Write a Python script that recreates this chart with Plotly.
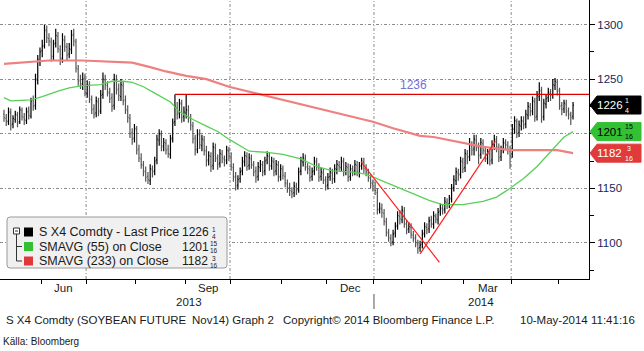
import plotly.graph_objects as go
import pandas as pd

# ---------------- data ----------------
holidays = ["2013-05-27", "2013-07-04", "2013-09-02", "2013-11-28", "2013-12-25",
            "2014-01-01", "2014-01-20", "2014-02-17", "2014-04-18"]
dates = [d for d in pd.bdate_range("2013-05-08", "2014-05-09")
         if d.strftime("%Y-%m-%d") not in holidays]

opens = [
    1218, 1214, 1211, 1219, 1209, 1213, 1217, 1211, 1221, 1215,
    1212, 1221, 1216, 1231, 1226, 1249, 1266, 1276, 1281, 1294,
    1287, 1284, 1271, 1283, 1289, 1277, 1269, 1285, 1279, 1273,
    1277, 1291, 1284, 1259, 1249, 1245, 1251, 1237, 1244, 1231,
    1223, 1219, 1229, 1221, 1236, 1249, 1244, 1237, 1233, 1226,
    1249, 1241, 1234, 1244, 1231, 1221, 1214, 1201, 1196, 1204,
    1186, 1177, 1171, 1166, 1161, 1157, 1167, 1166, 1176, 1194,
    1199, 1189, 1191, 1186, 1181, 1196, 1211, 1224, 1219, 1227,
    1216, 1219, 1221, 1214, 1207, 1196, 1186, 1199, 1189, 1194,
    1184, 1176, 1179, 1171, 1187, 1177, 1173, 1181, 1177, 1176,
    1184, 1179, 1169, 1161, 1153, 1159, 1166, 1174, 1179, 1171,
    1177, 1171, 1166, 1161, 1169, 1171, 1166, 1176, 1179, 1171,
    1174, 1166, 1171, 1161, 1167, 1161, 1154, 1151, 1147, 1146,
    1151, 1149, 1166, 1174, 1177, 1169, 1167, 1161, 1166, 1174,
    1169, 1161, 1164, 1157, 1153, 1161, 1164, 1159, 1167, 1171,
    1169, 1174, 1166, 1169, 1161, 1167, 1166, 1171, 1164, 1171,
    1174, 1167, 1164, 1159, 1154, 1151, 1146, 1131, 1131, 1127,
    1119, 1109, 1104, 1101, 1109, 1116, 1124, 1121, 1129, 1117,
    1113, 1114, 1107, 1104, 1099, 1096, 1099, 1109, 1114, 1113,
    1121, 1117, 1124, 1121, 1129, 1131, 1131, 1137, 1136, 1141,
    1151, 1157, 1164, 1163, 1174, 1169, 1181, 1179, 1189, 1186,
    1194, 1187, 1181, 1191, 1184, 1177, 1181, 1176, 1189, 1194,
    1187, 1179, 1186, 1191, 1189, 1184, 1181, 1204, 1211, 1201,
    1207, 1211, 1209, 1217, 1224, 1221, 1229, 1216, 1234, 1239,
    1216, 1227, 1233, 1237, 1236, 1244, 1247, 1239, 1226, 1223,
    1227, 1221, 1217, 1216,
]
highs = [
    1222, 1218, 1224, 1223, 1217, 1221, 1220, 1225, 1224, 1219,
    1224, 1225, 1233, 1235, 1255, 1272, 1279, 1286, 1300, 1299,
    1292, 1288, 1286, 1296, 1293, 1281, 1292, 1290, 1283, 1283,
    1295, 1296, 1287, 1263, 1254, 1256, 1255, 1249, 1248, 1235,
    1227, 1234, 1233, 1240, 1256, 1254, 1248, 1242, 1237, 1255,
    1254, 1246, 1250, 1248, 1235, 1226, 1218, 1205, 1209, 1207,
    1190, 1182, 1175, 1170, 1165, 1172, 1171, 1179, 1199, 1204,
    1203, 1196, 1195, 1190, 1199, 1214, 1236, 1229, 1232, 1231,
    1225, 1236, 1226, 1218, 1211, 1199, 1204, 1204, 1199, 1198,
    1189, 1184, 1183, 1192, 1191, 1181, 1186, 1185, 1180, 1189,
    1188, 1183, 1173, 1165, 1162, 1169, 1179, 1184, 1183, 1182,
    1181, 1175, 1170, 1174, 1176, 1175, 1179, 1184, 1183, 1179,
    1178, 1176, 1175, 1172, 1171, 1165, 1158, 1155, 1151, 1156,
    1155, 1169, 1179, 1182, 1181, 1173, 1171, 1169, 1179, 1178,
    1173, 1169, 1168, 1161, 1164, 1169, 1168, 1172, 1176, 1175,
    1179, 1178, 1174, 1173, 1172, 1171, 1176, 1175, 1174, 1178,
    1178, 1172, 1168, 1163, 1158, 1156, 1150, 1137, 1136, 1131,
    1123, 1113, 1108, 1112, 1119, 1129, 1130, 1134, 1133, 1121,
    1119, 1118, 1111, 1108, 1103, 1102, 1112, 1119, 1118, 1124,
    1125, 1129, 1127, 1132, 1136, 1135, 1142, 1141, 1144, 1154,
    1162, 1169, 1168, 1179, 1178, 1186, 1185, 1196, 1193, 1199,
    1199, 1192, 1196, 1195, 1188, 1186, 1186, 1194, 1199, 1198,
    1191, 1189, 1196, 1195, 1193, 1189, 1209, 1216, 1214, 1212,
    1216, 1216, 1222, 1229, 1228, 1234, 1233, 1239, 1247, 1243,
    1232, 1236, 1242, 1241, 1250, 1251, 1250, 1242, 1229, 1231,
    1231, 1224, 1220, 1229,
]
lows = [
    1211, 1207, 1208, 1203, 1205, 1210, 1206, 1209, 1212, 1208,
    1209, 1213, 1214, 1221, 1222, 1245, 1262, 1270, 1278, 1283,
    1280, 1266, 1267, 1279, 1274, 1263, 1265, 1275, 1267, 1269,
    1273, 1280, 1256, 1244, 1241, 1240, 1234, 1233, 1228, 1218,
    1214, 1215, 1216, 1218, 1232, 1240, 1234, 1228, 1220, 1222,
    1236, 1230, 1230, 1226, 1218, 1210, 1196, 1190, 1192, 1181,
    1174, 1168, 1161, 1156, 1154, 1153, 1160, 1162, 1172, 1189,
    1184, 1184, 1181, 1178, 1177, 1192, 1207, 1213, 1214, 1210,
    1211, 1214, 1210, 1203, 1191, 1180, 1182, 1186, 1184, 1180,
    1170, 1171, 1165, 1167, 1174, 1167, 1169, 1173, 1170, 1172,
    1175, 1166, 1156, 1148, 1149, 1155, 1162, 1170, 1166, 1167,
    1168, 1161, 1155, 1157, 1165, 1161, 1162, 1172, 1166, 1167,
    1161, 1162, 1156, 1157, 1158, 1151, 1146, 1143, 1141, 1142,
    1144, 1146, 1162, 1170, 1166, 1163, 1156, 1157, 1162, 1166,
    1156, 1157, 1154, 1148, 1149, 1157, 1154, 1155, 1163, 1166,
    1165, 1161, 1162, 1156, 1157, 1161, 1162, 1161, 1160, 1167,
    1164, 1161, 1156, 1150, 1147, 1144, 1126, 1127, 1123, 1116,
    1106, 1101, 1097, 1098, 1105, 1112, 1117, 1118, 1114, 1108,
    1109, 1104, 1101, 1096, 1090, 1092, 1095, 1105, 1108, 1109,
    1114, 1113, 1118, 1117, 1125, 1126, 1127, 1131, 1132, 1137,
    1147, 1153, 1157, 1159, 1164, 1165, 1172, 1175, 1180, 1180,
    1184, 1172, 1177, 1181, 1174, 1172, 1171, 1172, 1185, 1183,
    1174, 1175, 1182, 1186, 1181, 1168, 1178, 1200, 1196, 1197,
    1203, 1204, 1205, 1213, 1216, 1217, 1211, 1212, 1230, 1210,
    1212, 1223, 1229, 1230, 1232, 1240, 1235, 1222, 1217, 1219,
    1216, 1213, 1208, 1213,
]
closes = [
    1215, 1212, 1220, 1208, 1214, 1218, 1210, 1222, 1216, 1213,
    1220, 1217, 1230, 1225, 1250, 1268, 1275, 1280, 1295, 1288,
    1285, 1270, 1282, 1290, 1278, 1268, 1286, 1280, 1272, 1278,
    1290, 1285, 1260, 1248, 1246, 1250, 1238, 1245, 1232, 1222,
    1218, 1230, 1220, 1235, 1250, 1245, 1238, 1232, 1225, 1250,
    1240, 1235, 1245, 1230, 1222, 1215, 1200, 1195, 1205, 1185,
    1178, 1172, 1165, 1160, 1158, 1168, 1165, 1175, 1195, 1200,
    1188, 1192, 1185, 1182, 1195, 1210, 1225, 1218, 1228, 1215,
    1220, 1222, 1215, 1208, 1195, 1185, 1200, 1190, 1195, 1185,
    1175, 1180, 1170, 1188, 1178, 1172, 1182, 1178, 1175, 1185,
    1180, 1170, 1160, 1152, 1158, 1165, 1175, 1180, 1170, 1178,
    1172, 1165, 1160, 1170, 1172, 1165, 1175, 1180, 1170, 1175,
    1165, 1172, 1160, 1168, 1162, 1155, 1150, 1148, 1145, 1152,
    1148, 1165, 1175, 1178, 1170, 1168, 1160, 1165, 1175, 1170,
    1160, 1165, 1158, 1152, 1160, 1165, 1158, 1168, 1172, 1170,
    1175, 1165, 1170, 1160, 1168, 1165, 1172, 1165, 1170, 1175,
    1168, 1165, 1160, 1155, 1152, 1148, 1130, 1132, 1128, 1120,
    1110, 1105, 1100, 1108, 1115, 1125, 1122, 1130, 1118, 1112,
    1115, 1108, 1105, 1100, 1095, 1098, 1108, 1115, 1112, 1120,
    1118, 1125, 1122, 1128, 1132, 1130, 1138, 1135, 1140, 1150,
    1158, 1165, 1162, 1175, 1168, 1182, 1178, 1190, 1185, 1195,
    1188, 1180, 1192, 1185, 1178, 1182, 1175, 1190, 1195, 1188,
    1178, 1185, 1192, 1190, 1185, 1180, 1205, 1212, 1200, 1208,
    1212, 1208, 1218, 1225, 1220, 1230, 1215, 1235, 1240, 1215,
    1228, 1232, 1238, 1235, 1245, 1248, 1240, 1225, 1222, 1228,
    1220, 1218, 1215, 1226.25,
]

# moving averages (trading-day index, value)
sma55_day = [0, 3, 12, 17, 24, 29, 35, 43, 48, 53, 57, 62, 68, 74, 78, 84, 90, 95, 100,
             109, 117, 124, 132, 139, 146, 154, 161, 168, 176, 185, 189, 195, 204, 213,
             219, 225, 231, 237, 243, 249, 253]
sma55_val = [1233, 1230, 1231, 1234, 1239, 1242, 1244, 1245, 1248, 1248, 1247, 1243, 1236,
             1229, 1220, 1213, 1207, 1202, 1195, 1184, 1183, 1181, 1177, 1170, 1166, 1165,
             1163, 1157, 1150, 1143, 1139, 1135, 1135, 1138, 1142, 1150, 1159, 1170, 1184,
             1197, 1201.94]
sma233_day = [0, 13, 20, 35, 50, 57, 65, 72, 81, 90, 100, 114, 127, 139, 151, 164, 173, 185,
              191, 206, 213, 225, 235, 246, 253]
sma233_val = [1264, 1266, 1267, 1267, 1266, 1265, 1261, 1257, 1253, 1250, 1243, 1236, 1230,
              1224, 1218, 1211, 1205, 1198, 1197, 1191, 1188, 1185, 1185, 1185, 1182.19]

# drawn trend lines
level_value = 1236
level_start_day = 76
down_day = [158.7, 193.6]
down_val = [1174.4, 1082.3]
up_day = [185, 218.5]
up_val = [1090, 1193]

y_major = [1100, 1150, 1200, 1250, 1300]
y_major_text = ["1100", "1150", "", "1250", "1300"]
month_labels_shown = {6: "Jun", 9: "Sep", 12: "Dec", 3: "Mar"}

# last values: (whole, numerator, denominator, value)
last_price = ("1226", "1", "4", 1226.25)
sma55_last = ("1201", "15", "16", 1201 + 15 / 16)
sma233_last = ("1182", "3", "16", 1182 + 3 / 16)

# ---------------- layout geometry ----------------
W, H = 644, 351
PW, PH = 589, 279          # plot area (px)
X_MIN, X_MAX = -1.78, 260.1
Y_MIN, Y_MAX = 1067.0, 1322.4
FONT = "Liberation Sans, Arial, sans-serif"


def px(x):
    return x / PW


def py(y):
    return 1 - y / PH


idx = list(range(len(dates)))

# month / quarter boundaries from dates
month_bounds = []
quarter_bounds = []
for k in range(1, len(dates)):
    if dates[k].month != dates[k - 1].month:
        month_bounds.append(k - 0.5)
        if dates[k].month in (1, 4, 7, 10):
            quarter_bounds.append(k - 0.5)
year_bound = [k - 0.5 for k in range(1, len(dates)) if dates[k].year != dates[k - 1].year][0]

fig = go.Figure()

fig.add_trace(go.Scatter(x=sma233_day, y=sma233_val, mode="lines",
                         line=dict(color="#ee8080", width=2.2), hoverinfo="skip"))
fig.add_trace(go.Scatter(x=sma55_day, y=sma55_val, mode="lines",
                         line=dict(color="#58cf58", width=1.3), hoverinfo="skip"))

fig.add_trace(go.Ohlc(x=idx, open=opens, high=highs, low=lows, close=closes,
                      increasing=dict(line=dict(color="#000000", width=1.2)),
                      decreasing=dict(line=dict(color="#555555", width=1.2)),
                      tickwidth=0.4))

fig.add_trace(go.Scatter(x=[level_start_day, X_MAX], y=[level_value, level_value], mode="lines",
                         line=dict(color="#e00000", width=1.4), hoverinfo="skip"))
fig.add_trace(go.Scatter(x=down_day, y=down_val, mode="lines",
                         line=dict(color="#ff2020", width=1.2), hoverinfo="skip"))
fig.add_trace(go.Scatter(x=up_day, y=up_val, mode="lines",
                         line=dict(color="#ff2020", width=1.2), hoverinfo="skip"))

# triangles at the major y ticks
fig.add_trace(go.Scatter(x=[262.0] * 4, y=[v for v in y_major if v != 1200], mode="markers",
                         marker=dict(symbol="triangle-right", size=6, color="black"),
                         cliponaxis=False, hoverinfo="skip"))

shapes = []
annots = []

# vertical quarter gridlines
for qb in quarter_bounds:
    shapes.append(dict(type="line", xref="x", yref="paper", x0=qb, x1=qb, y0=0, y1=1,
                       line=dict(color="#8a8a8a", width=1, dash="3px,2px,1px,2px"), layer="below"))

# year divider under the axis
shapes.append(dict(type="line", xref="x", yref="paper", x0=year_bound, x1=year_bound,
                   y0=py(294), y1=py(309), line=dict(color="#555555", width=1)))

# month labels
for k in range(len(month_bounds) - 1):
    a, b = month_bounds[k], month_bounds[k + 1]
    m = dates[int(a + 0.5)].month
    if m in month_labels_shown:
        annots.append(dict(x=(a + b) / 2, y=py(288), xref="x", yref="paper",
                           text=month_labels_shown[m], showarrow=False,
                           font=dict(family=FONT, size=11.5, color="#1a1a1a"),
                           xanchor="center", yanchor="middle"))
annots.append(dict(x=(0 + year_bound) / 2, y=py(302), xref="x", yref="paper", text="2013",
                   showarrow=False, font=dict(family=FONT, size=11.5, color="#1a1a1a"),
                   xanchor="center", yanchor="middle"))
annots.append(dict(x=(year_bound + X_MAX) / 2, y=py(302), xref="x", yref="paper", text="2014",
                   showarrow=False, font=dict(family=FONT, size=11.5, color="#1a1a1a"),
                   xanchor="center", yanchor="middle"))

# 1236 label
annots.append(dict(x=175.0, y=level_value + 0.8, xref="x", yref="y", text="1236",
                   showarrow=False, font=dict(family=FONT, size=12, color="#7070d8"),
                   xanchor="left", yanchor="bottom"))

# footer
foot_font = dict(family=FONT, size=11.5, color="#1a1a1a")
annots += [
    dict(x=px(4), y=py(320), xref="paper", yref="paper", text="S X4 Comdty (SOYBEAN FUTURE",
         showarrow=False, font=foot_font, xanchor="left", yanchor="middle"),
    dict(x=px(190), y=py(320), xref="paper", yref="paper", text="Nov14) Graph 2",
         showarrow=False, font=foot_font, xanchor="left", yanchor="middle"),
    dict(x=px(281), y=py(320), xref="paper", yref="paper",
         text="Copyright\u00a9 2014 Bloomberg Finance L.P.",
         showarrow=False, font=foot_font, xanchor="left", yanchor="middle"),
    dict(x=px(637), y=py(320), xref="paper", yref="paper", text="10-May-2014 11:41:16",
         showarrow=False, font=foot_font, xanchor="right", yanchor="middle"),
    dict(x=px(1), y=py(341), xref="paper", yref="paper", text="K\u00e4lla: Bloomberg",
         showarrow=False, font=dict(family=FONT, size=10, color="#1a1a1a"),
         xanchor="left", yanchor="middle"),
]

# value tags on the right axis
HH = 9 / (PH / (Y_MAX - Y_MIN))   # half tag height in price units
for (whole, num, den, val), fill, tcol in [
        (last_price, "#000000", "#ffffff"),
        (sma55_last, "#33c033", "#000000"),
        (sma233_last, "#e03a3a", "#ffffff")]:
    path = (f"M {px(590)},{val} L {px(597)},{val + HH} L {px(641)},{val + HH} "
            f"L {px(641)},{val - HH} L {px(597)},{val - HH} Z")
    shapes.append(dict(type="path", xref="paper", yref="y", path=path,
                       fillcolor=fill, line=dict(color=fill, width=1), layer="above"))
    annots.append(dict(x=px(596), y=val, xref="paper", yref="y", text=whole, showarrow=False,
                       font=dict(family=FONT, size=11.5, color=tcol), borderpad=0,
                       xanchor="left", yanchor="middle"))
    annots.append(dict(x=px(624), y=val - 0.3, xref="paper", yref="y",
                       text=f"{num}<br>{den}", showarrow=False, align="center", borderpad=0,
                       height=15, valign="middle",
                       font=dict(family=FONT, size=7, color=tcol),
                       xanchor="left", yanchor="middle"))

# legend box (drawn)
bx0, bx1, by0, by1, r = 7, 227, 217, 268, 3
legend_path = (f"M {px(bx0 + r)},{py(by0)} L {px(bx1 - r)},{py(by0)} "
               f"Q {px(bx1)},{py(by0)} {px(bx1)},{py(by0 + r)} "
               f"L {px(bx1)},{py(by1 - r)} Q {px(bx1)},{py(by1)} {px(bx1 - r)},{py(by1)} "
               f"L {px(bx0 + r)},{py(by1)} Q {px(bx0)},{py(by1)} {px(bx0)},{py(by1 - r)} "
               f"L {px(bx0)},{py(by0 + r)} Q {px(bx0)},{py(by0)} {px(bx0 + r)},{py(by0)} Z")
shapes.append(dict(type="path", xref="paper", yref="paper", path=legend_path,
                   fillcolor="#f0f0f0", line=dict(color="#9a9a9a", width=1), layer="above"))
# tree icon
shapes.append(dict(type="rect", xref="paper", yref="paper", x0=px(13.5), x1=px(19.5),
                   y0=py(228), y1=py(234), line=dict(color="#333333", width=1),
                   fillcolor="#ffffff", layer="above"))
shapes.append(dict(type="line", xref="paper", yref="paper", x0=px(15), x1=px(18),
                   y0=py(231), y1=py(231), line=dict(color="#333333", width=1), layer="above"))
shapes.append(dict(type="line", xref="paper", yref="paper", x0=px(16.5), x1=px(16.5),
                   y0=py(234), y1=py(261), line=dict(color="#333333", width=1), layer="above"))
for yy in (246.5, 261):
    shapes.append(dict(type="line", xref="paper", yref="paper", x0=px(16.5), x1=px(22),
                       y0=py(yy), y1=py(yy), line=dict(color="#333333", width=1), layer="above"))

leg_font = dict(family=FONT, size=12.5, color="#1a1a1a")
frac_font = dict(family=FONT, size=6.5, color="#1a1a1a")
rows = [
    ("S X4 Comdty - Last Price", "#000000", last_price, 232),
    ("SMAVG (55) on Close", "#33c033", sma55_last, 246.5),
    ("SMAVG (233) on Close", "#e03838", sma233_last, 261),
]
for name, col, (whole, num, den, val), yc in rows:
    shapes.append(dict(type="rect", xref="paper", yref="paper", x0=px(24), x1=px(33),
                       y0=py(yc - 4.5), y1=py(yc + 4.5), fillcolor=col,
                       line=dict(color=col, width=0), layer="above"))
    annots.append(dict(x=px(37), y=py(yc), xref="paper", yref="paper", text=name,
                       showarrow=False, font=leg_font, xanchor="left", yanchor="middle"))
    annots.append(dict(x=px(181), y=py(yc), xref="paper", yref="paper", text=whole,
                       showarrow=False, font=dict(family=FONT, size=12, color="#1a1a1a"),
                       borderpad=0, xanchor="left", yanchor="middle"))
    annots.append(dict(x=px(213.5), y=py(yc - 3.2), xref="paper", yref="paper", text=num,
                       showarrow=False, borderpad=0, height=6, font=frac_font,
                       xanchor="center", yanchor="middle"))
    annots.append(dict(x=px(213.5), y=py(yc + 3.6), xref="paper", yref="paper", text=den,
                       showarrow=False, borderpad=0, height=6, font=frac_font,
                       xanchor="center", yanchor="middle"))

fig.update_layout(
    width=W, height=H, autosize=False,
    margin=dict(l=0, r=W - PW, t=0, b=H - PH, pad=0),
    paper_bgcolor="white", plot_bgcolor="white",
    showlegend=False,
    shapes=shapes, annotations=annots,
    xaxis=dict(range=[X_MIN, X_MAX], rangeslider=dict(visible=False),
               tickmode="array", tickvals=month_bounds, showticklabels=False,
               ticks="outside", ticklen=4, tickcolor="black",
               showgrid=False, zeroline=False, showline=True, linecolor="black", linewidth=1),
    yaxis=dict(range=[Y_MIN, Y_MAX], side="right", tickmode="array",
               tickvals=y_major, ticktext=y_major_text,
               ticks="outside", ticklen=5, tickcolor="black",
               tickfont=dict(family=FONT, size=11.5, color="#14285a"),
               minor=dict(dtick=25, tick0=1075, ticks="outside", ticklen=4, tickcolor="black",
                          showgrid=False),
               showgrid=True, gridcolor="#8a8a8a", gridwidth=1, griddash="3px,2px,1px,2px",
               zeroline=False, showline=True, linecolor="black", linewidth=1),
)

fig.write_html("out.html")
